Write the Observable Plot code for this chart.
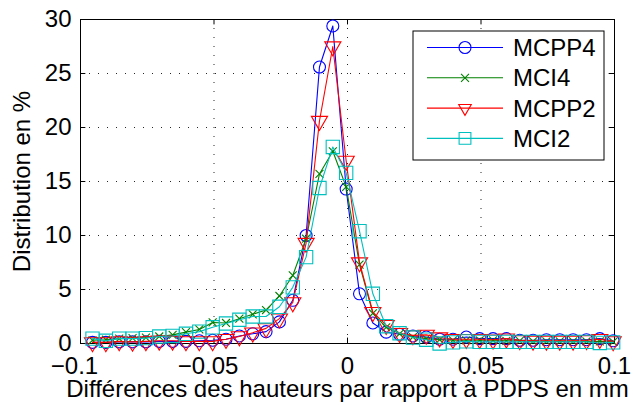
<!DOCTYPE html>
<html><head><meta charset="utf-8">
<script src="https://cdn.jsdelivr.net/npm/d3@7"></script>
<script src="https://cdn.jsdelivr.net/npm/@observablehq/plot@0.6"></script>
<style>
body{margin:0;background:#fff}
#chart svg{font-family:"Liberation Sans",Arial,Helvetica,sans-serif;background:#fff}
</style>
</head><body><div id="chart"></div>
<script>
// Bin centres (mm)
const binCenters = [-0.0955,-0.0905,-0.0855,-0.0805,-0.0755,-0.0705,-0.0655,-0.0605,-0.0555,-0.0505,
  -0.0455,-0.0405,-0.0355,-0.0305,-0.0255,-0.0205,-0.0155,-0.0105,-0.0055,-0.0005,
  0.0045,0.0095,0.0145,0.0195,0.0245,0.0295,0.0345,0.0395,0.0445,0.0495,
  0.0545,0.0595,0.0645,0.0695,0.0745,0.0795,0.0845,0.0895,0.0945,0.0995];
// Distribution in %
const mcpp4 = [0.1,0.1,0.15,0.15,0.15,0.2,0.2,0.2,0.25,0.3,
  0.4,0.7,0.9,1.1,2.0,4.0,10.0,25.6,29.4,14.3,
  4.6,1.9,1.05,0.85,0.7,0.6,0.4,0.4,0.6,0.45,
  0.45,0.45,0.3,0.3,0.35,0.35,0.35,0.35,0.45,0.25];
const mci4 = [0.3,0.35,0.45,0.5,0.55,0.65,0.8,1.05,1.3,1.95,
  1.9,2.3,2.7,3.1,4.4,6.3,9.7,15.7,17.8,14.5,
  7.3,2.8,1.5,0.9,0.6,0.45,0.35,0.3,0.3,0.3,
  0.3,0.25,0.25,0.2,0.2,0.2,0.2,0.2,0.2,0.15];
const mcpp2 = [0.1,0.1,0.2,0.15,0.2,0.25,0.25,0.2,0.2,0.2,
  0.4,0.65,1.0,1.4,2.3,3.8,9.3,20.6,27.5,16.9,
  7.5,2.9,1.7,0.95,0.75,0.8,0.55,0.4,0.4,0.4,
  0.35,0.45,0.3,0.25,0.25,0.25,0.25,0.3,0.4,0.2];
const mci2 = [0.45,0.25,0.45,0.45,0.5,0.65,0.7,0.9,1.1,1.5,
  1.85,2.2,2.5,2.5,3.4,5.2,8.0,14.4,18.2,15.8,
  10.4,4.6,1.6,0.95,0.55,0.35,0.0,0.1,0.2,0.15,
  0.15,0.15,0.15,0.15,0.15,0.15,0.15,0.15,0.05,0.1];

const seriesNames = ["MCPP4","MCI4","MCPP2","MCI2"];
const seriesValues = [mcpp4, mci4, mcpp2, mci2];
const seriesColors = ["#0000ff","#008000","#ff0000","#00bfbf"];
const seriesSymbols = ["circle","times","triangle","square"];
const d3Symbols = [d3.symbolCircle, d3.symbolTimes, d3.symbolTriangle2, d3.symbolSquare2];
const seriesRadius = [6, 3.7, 6, 7.5];
const seriesRotate = [0, 0, 180, 0];

const xTicks = [-0.1,-0.05,0,0.05,0.1];
const yTicks = [0,5,10,15,20,25,30];
const xLabel = "Différences des hauteurs par rapport à PDPS en mm";
const yLabel = "Distribution en %";
const FS = 24;
const fmt = d => (d < 0 ? "\u2212" : "") + String(Math.abs(d));

const marks = [
  Plot.gridX(xTicks, {stroke:"#000", strokeOpacity:0.85, strokeDasharray:"1,8"}),
  Plot.gridY(yTicks, {stroke:"#000", strokeOpacity:0.85, strokeDasharray:"1,8"}),
  Plot.frame({stroke:"#000", strokeWidth:1}),
  // inward ticks
  Plot.ruleX(xTicks, {x:d=>d, y1:0, y2:0.5, stroke:"#000"}),
  Plot.ruleX(xTicks, {x:d=>d, y1:30, y2:29.5, stroke:"#000"}),
  Plot.ruleY(yTicks, {y:d=>d, x1:-0.1, x2:-0.098, stroke:"#000"}),
  Plot.ruleY(yTicks, {y:d=>d, x1:0.1, x2:0.098, stroke:"#000"}),
  Plot.axisX(xTicks.filter(d=>d<0), {tickSize:0, tickPadding:13, fontSize:FS, dx:-6, tickFormat:fmt, label:null}),
  Plot.axisX(xTicks.filter(d=>d>=0), {tickSize:0, tickPadding:13, fontSize:FS, tickFormat:fmt, label:null}),
  Plot.axisY(yTicks, {tickSize:0, tickPadding:9, fontSize:FS, tickFormat:fmt, label:null}),
  Plot.text([xLabel], {text:d=>d, frameAnchor:"bottom", textAnchor:"middle", dy:53, fontSize:FS, fill:"#000"}),
  Plot.text([yLabel], {text:d=>d, frameAnchor:"left", textAnchor:"middle", dx:-58, rotate:-90, fontSize:FS, fill:"#000"})
];

seriesValues.forEach((vals, i) => {
  const data = binCenters.map((x, j) => ({x, y: vals[j]}));
  marks.push(Plot.line(data, {x:"x", y:"y", stroke:seriesColors[i], strokeWidth:1.1}));
  marks.push(Plot.dot(data, {x:"x", y:"y", symbol:seriesSymbols[i], r:seriesRadius[i],
    rotate:seriesRotate[i], stroke:seriesColors[i], fill:"none", strokeWidth:1.1}));
});

const plot = Plot.plot({
  width:633, height:407,
  marginLeft:80, marginRight:19, marginTop:19, marginBottom:64,
  style:{fontSize:FS+"px", fontFamily:"Liberation Sans, Arial, sans-serif", color:"#000", background:"#fff"},
  x:{domain:[-0.1,0.1]},
  y:{domain:[0,30]},
  marks
});
document.getElementById("chart").append(plot);

// legend box (top-right, inside axes)
const svg = d3.select(plot);
const lg = svg.append("g").attr("class","legend");
const lx = 413, ly = 31, lw = 191, lh = 129, rowY0 = 47.5, rowStep = 30.3;
lg.append("rect").attr("x",lx).attr("y",ly).attr("width",lw).attr("height",lh)
  .attr("fill","#fff").attr("stroke","#000").attr("stroke-width",1);
seriesNames.forEach((name, i) => {
  const y = rowY0 + i*rowStep;
  lg.append("line").attr("x1",427).attr("x2",503).attr("y1",y).attr("y2",y)
    .attr("stroke",seriesColors[i]).attr("stroke-width",1.1);
  lg.append("path").attr("d", d3.symbol(d3Symbols[i], Math.PI*seriesRadius[i]**2)())
    .attr("transform",`translate(465,${y}) rotate(${seriesRotate[i]})`)
    .attr("fill","none").attr("stroke",seriesColors[i]).attr("stroke-width",1.1);
  lg.append("text").attr("x",513).attr("y",y).attr("dy","0.35em")
    .attr("text-anchor","start").attr("font-size",FS).attr("fill","#000").text(name);
});
</script>
</body></html>
